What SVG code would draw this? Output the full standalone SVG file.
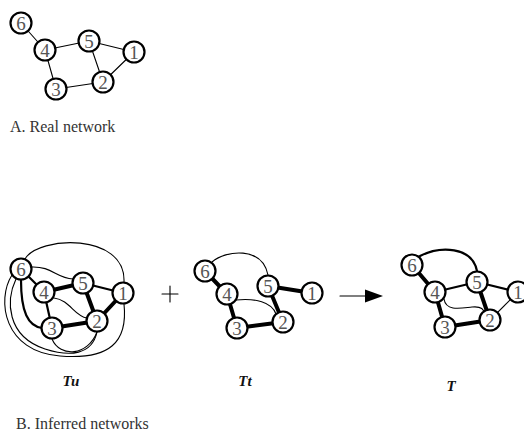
<svg xmlns="http://www.w3.org/2000/svg" width="524" height="433" viewBox="0 0 524 433">
<style>
.e{fill:none;stroke:#000;stroke-linecap:round}
.t1{stroke-width:1.1}
.t2{stroke-width:2.2}
.t3{stroke-width:4}
.n circle{fill:#fff;stroke:#000;stroke-width:2.2}
.n text{font-family:"Liberation Serif",serif;font-size:19px;fill:#555;text-anchor:middle}
.cap{font-family:"Liberation Serif",serif;font-size:16px;fill:#333}
.lab{font-family:"Liberation Serif",serif;font-size:15px;font-weight:bold;font-style:italic;fill:#111;text-anchor:middle}
</style>
<rect width="524" height="433" fill="#fff"/>
<g id="connectors">
<path class="e t1" d="M21,23L45,50M45,50L89,41M45,50L56,89M89,41L134,52M89,41L103,82M134,52L103,82M56,89L103,82"/>
<path class="e t3" d="M44,292L83,283M83,283L97,321M97,321L123,293M52,328L97,321"/>
<path class="e t2" d="M83,283L123,293M21,269L44,292M44,292L52,328M21,280C21,312 28,326 42,328"/>
<path class="e t1" d="M25,259C38,236 126,232 124,282"/>
<path class="e t1" d="M12,275C-4,300 4,352 60,356C110,360 128,342 124,304"/>
<path class="e t1" d="M31,267C52,266 56,278 73,279"/>
<path class="e t1" d="M54,298C70,300 74,316 87,318"/>
<path class="e t1" d="M16,279C6,300 6,336 45,349C70,357 92,355 97,332"/>
<path class="e t1" d="M52,339C60,358 88,356 97,332"/>
<path class="e t3" d="M205,271L227,294M227,294L237,328M237,328L283,322M268,286L283,322M268,286L312,293"/>
<path class="e t1" d="M212,262C226,250 262,246 268,275"/>
<path class="e t1" d="M236,300C255,298 272,302 276,314"/>
<path class="e t1" d="M340,296L366,296"/>
<path d="M365,289.5L383,296L365,302.5Z" fill="#000"/>
<path class="e t1" d="M162,294L178,294M170,286L170,302"/>
<path class="e t3" d="M412,265L435,292M435,292L445,327M445,327L490,320M477,282L490,320"/>
<path class="e t2" d="M435,292L477,282M477,282L518,292"/>
<path class="e t1" d="M490,320L518,292"/>
<path class="e t2" d="M420,256C440,246 472,246 477,271"/>
<path class="e t1" d="M444,299C446,312 462,308 472,307C482,306 484,310 484,313"/>
</g>
<g id="a6" class="n"><circle cx="21" cy="23" r="10.5"/><text x="21" y="29.5">6</text></g>
<g id="a4" class="n"><circle cx="45" cy="50" r="10.5"/><text x="45" y="56.5">4</text></g>
<g id="a5" class="n"><circle cx="89" cy="41" r="10.5"/><text x="89" y="47.5">5</text></g>
<g id="a1" class="n"><circle cx="134" cy="52" r="10.5"/><text x="134" y="58.5">1</text></g>
<g id="a2" class="n"><circle cx="103" cy="82" r="10.5"/><text x="103" y="88.5">2</text></g>
<g id="a3" class="n"><circle cx="56" cy="89" r="10.5"/><text x="56" y="95.5">3</text></g>

<g id="u6" class="n"><circle cx="21" cy="269" r="10.5"/><text x="21" y="275.5">6</text></g>
<g id="u4" class="n"><circle cx="44" cy="292" r="10.5"/><text x="44" y="298.5">4</text></g>
<g id="u5" class="n"><circle cx="83" cy="283" r="10.5"/><text x="83" y="289.5">5</text></g>
<g id="u1" class="n"><circle cx="123" cy="293" r="10.5"/><text x="123" y="299.5">1</text></g>
<g id="u2" class="n"><circle cx="97" cy="321" r="10.5"/><text x="97" y="327.5">2</text></g>
<g id="u3" class="n"><circle cx="52" cy="328" r="10.5"/><text x="52" y="334.5">3</text></g>

<g id="t6" class="n"><circle cx="205" cy="271" r="10.5"/><text x="205" y="277.5">6</text></g>
<g id="t4" class="n"><circle cx="227" cy="294" r="10.5"/><text x="227" y="300.5">4</text></g>
<g id="t5" class="n"><circle cx="268" cy="286" r="10.5"/><text x="268" y="292.5">5</text></g>
<g id="t1" class="n"><circle cx="312" cy="293" r="10.5"/><text x="312" y="299.5">1</text></g>
<g id="t2" class="n"><circle cx="283" cy="322" r="10.5"/><text x="283" y="328.5">2</text></g>
<g id="t3" class="n"><circle cx="237" cy="328" r="10.5"/><text x="237" y="334.5">3</text></g>

<g id="T6" class="n"><circle cx="412" cy="265" r="10.5"/><text x="412" y="271.5">6</text></g>
<g id="T4" class="n"><circle cx="435" cy="292" r="10.5"/><text x="435" y="298.5">4</text></g>
<g id="T5" class="n"><circle cx="477" cy="282" r="10.5"/><text x="477" y="288.5">5</text></g>
<g id="T1" class="n"><circle cx="518" cy="292" r="10.5"/><text x="518" y="298.5">1</text></g>
<g id="T2" class="n"><circle cx="490" cy="320" r="10.5"/><text x="490" y="326.5">2</text></g>
<g id="T3" class="n"><circle cx="445" cy="327" r="10.5"/><text x="445" y="333.5">3</text></g>

<text class="cap" x="10" y="132">A. Real network</text>
<text class="lab" x="71" y="386">Tu</text>
<text class="lab" x="245" y="386">Tt</text>
<text class="lab" x="451" y="391">T</text>
<text class="cap" x="16" y="429">B. Inferred networks</text>
</svg>
